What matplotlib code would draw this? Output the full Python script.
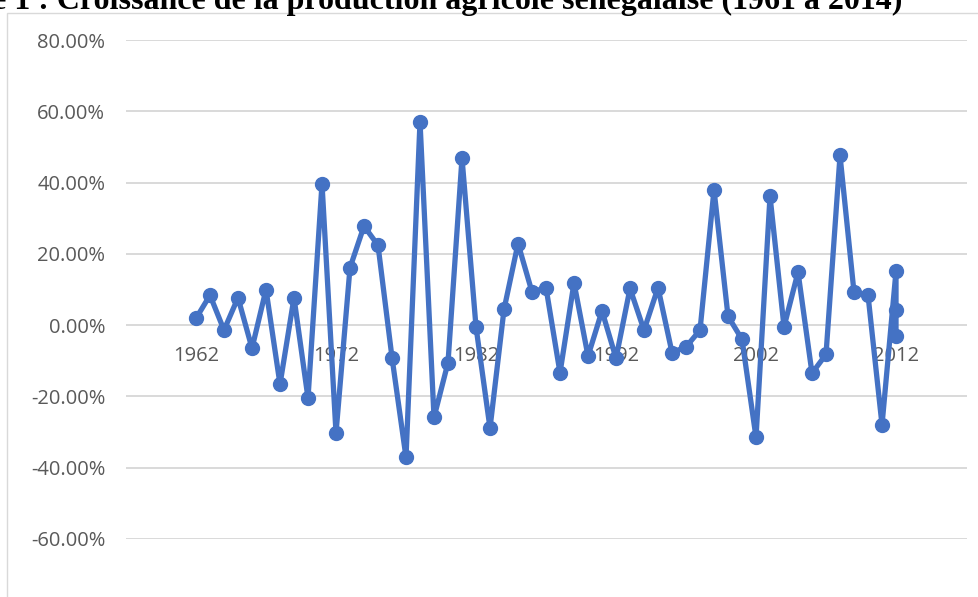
import matplotlib
matplotlib.use("Agg")
import matplotlib.pyplot as plt
from matplotlib.patches import Rectangle
from matplotlib.ticker import FuncFormatter

W, H = 979, 597

# growth rates (the last three points all sit on 2012)
years = list(range(1962, 2012)) + [2012, 2012, 2012]
growth = [1.9, 8.4, -1.4, 7.7, -6.5, 10.0, -16.6, 7.7, -20.5, 39.7,
          -30.3, 16.1, 27.8, 22.4, -9.1, -37.1, 57.1, -25.9, -10.5, 46.9,
          -0.5, -28.9, 4.4, 22.9, 9.3, 10.5, -13.4, 11.9, -8.7, 4.0,
          -9.3, 10.3, -1.4, 10.5, -7.7, -6.1, -1.4, 38.0, 2.5, -4.0,
          -31.5, 36.2, -0.5, 14.9, -13.5, -8.2, 47.6, 9.2, 8.4, -28.0,
          15.2, 4.2, -3.1]
growth = [g / 100 for g in growth]

xticks = [1962, 1972, 1982, 1992, 2002, 2012]
yticks = [-0.6, -0.4, -0.2, 0.0, 0.2, 0.4, 0.6, 0.8]

title = "Figure 1 : Croissance de la production agricole sénégalaise (1961 à 2014)"

fig = plt.figure(figsize=(W / 100, H / 100), dpi=100)

# light chart frame (left and top edges visible)
fig.patches.append(Rectangle((7.5 / W, -0.1), 1.2, 1 - 12.7 / H + 0.1,
                             transform=fig.transFigure, fill=False,
                             edgecolor="#D9D9D9", linewidth=1.0))

ax = fig.add_axes([126 / W, 1 - 539 / H, (967 - 126) / W, (539 - 40) / H])

ax.plot(years, growth, color="#4472C4", linewidth=3.8, marker="o",
        markersize=10, solid_joinstyle="round", zorder=3)

ax.set_xlim(1957.0, 2017.07)
ax.set_ylim(-0.6, 0.8)
ax.set_yticks(yticks)
ax.set_xticks(xticks)
ax.yaxis.set_major_formatter(FuncFormatter(lambda v, p: f"{v * 100:.2f}%"))

ax.grid(axis="y", color="#D9D9D9", linewidth=1.4)
ax.grid(axis="x", visible=False)
ax.set_axisbelow(True)
for s in ["top", "right", "left"]:
    ax.spines[s].set_visible(False)
ax.spines["bottom"].set_position(("data", 0))
ax.spines["bottom"].set_visible(False)

ax.tick_params(axis="both", length=0, labelcolor="#595959", labelsize=14.5)
ax.tick_params(axis="y", pad=15)
ax.tick_params(axis="x", pad=15)
for lab in ax.get_xticklabels() + ax.get_yticklabels():
    lab.set_family("Open Sans")

# title sits partly above the top edge, as in the source picture
fig.text(902 / W, 1 - 9.5 / H, title, ha="right", va="baseline",
         fontsize=23, fontweight="bold", family="Liberation Serif")

fig.savefig("out.png", dpi=100, facecolor="white")
